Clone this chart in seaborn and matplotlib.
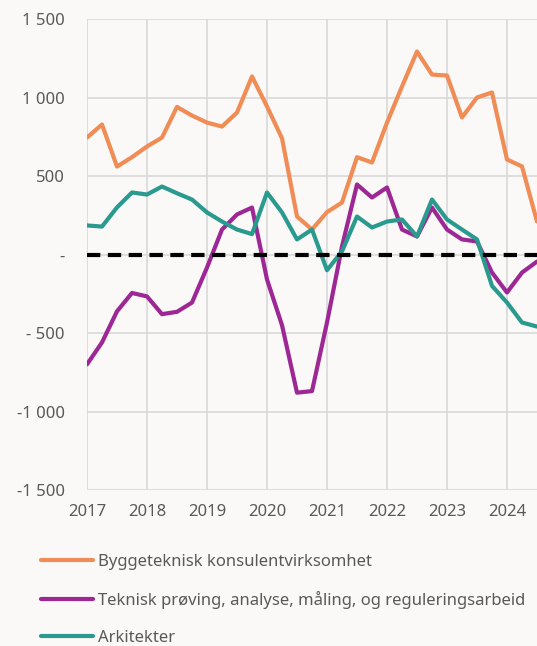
import matplotlib
matplotlib.use("Agg")
import matplotlib.pyplot as plt
import numpy as np
import pandas as pd
import seaborn as sns
from matplotlib.ticker import FixedLocator, FuncFormatter

# quarterly observations, 2017 Q1 .. 2024 Q3
periods = [2017 + 0.25 * k for k in range(31)]

bygg = [745, 828, 560, 620, 688, 745, 940, 885, 840, 815, 904, 1134, 943, 740, 242, 159,
        270, 331, 620, 586, 840, 1070, 1293, 1146, 1140, 873, 1000, 1032, 605, 561, 210]
teknisk = [-700, -560, -362, -245, -267, -380, -365, -306, -83, 159, 255, 299, -159, -450, -880, -870,
           -433, 51, 446, 363, 427, 159, 115, 299, 159, 96, 83, -115, -242, -115, -45]
arkitekt = [185, 178, 300, 395, 382, 433, 390, 350, 268, 210, 159, 130, 395, 268, 96, 159,
            -100, 20, 242, 172, 210, 223, 115, 350, 223, 159, 96, -200, -306, -433, -459]

series_names = [
    "Byggeteknisk konsulentvirksomhet",
    "Teknisk prøving, analyse, måling, og reguleringsarbeid",
    "Arkitekter",
]
series_colors = ["#F08C55", "#9C2795", "#2A9A8E"]

year_ticks = list(range(2017, 2025))
value_ticks = [-1500, -1000, -500, 0, 500, 1000, 1500]

BG = "#FAF9F7"
GRID = "#D9D9D9"
TEXT = "#595959"

df = pd.concat(
    [
        pd.DataFrame({"periode": periods, "verdi": vals, "serie": name})
        for name, vals in zip(series_names, [bygg, teknisk, arkitekt])
    ],
    ignore_index=True,
)

sns.set_style("white")
plt.rcParams["font.family"] = ["Noto Sans", "DejaVu Sans"]

fig = plt.figure(figsize=(5.37, 6.46), dpi=100)
fig.patch.set_facecolor(BG)
ax = fig.add_axes([87 / 537, 1 - 490 / 646, 450 / 537, 471 / 646])
ax.set_facecolor(BG)

sns.lineplot(
    data=df,
    x="periode",
    y="verdi",
    hue="serie",
    hue_order=series_names,
    palette=dict(zip(series_names, series_colors)),
    linewidth=3,
    ax=ax,
    legend=False,
    solid_joinstyle="round",
    solid_capstyle="round",
)
ax.axhline(0, color="black", lw=3, ls=(0, (3.2, 1.8)), zorder=5)

ax.set_xlim(2017, 2024.5)
ax.set_ylim(-1500, 1500)
ax.xaxis.set_major_locator(FixedLocator(year_ticks))
ax.yaxis.set_major_locator(FixedLocator(value_ticks))


def nok_fmt(v, _pos):
    if v == 0:
        return "-"
    s = f"{abs(int(v)):,}".replace(",", " ")
    if v < 0:
        return ("- " + s) if abs(v) < 1000 else "-" + s
    return s


ax.yaxis.set_major_formatter(FuncFormatter(nok_fmt))
ax.xaxis.set_major_formatter(FuncFormatter(lambda v, p: f"{int(v)}"))
ax.grid(True, color=GRID, lw=1.2)
ax.set_axisbelow(True)
for sp in ax.spines.values():
    sp.set_visible(False)
ax.tick_params(axis="both", length=0, labelsize=12, labelcolor=TEXT)
ax.tick_params(axis="y", pad=16)
ax.tick_params(axis="x", pad=10)
ax.set_xlabel("")
ax.set_ylabel("")

handles = [plt.Line2D([], [], color=c, lw=3) for c in series_colors]
fig.legend(
    handles,
    series_names,
    loc="upper left",
    bbox_to_anchor=(26 / 537, 1 - 539 / 646),
    frameon=False,
    fontsize=12,
    labelcolor=TEXT,
    handlelength=3.1,
    handletextpad=0.3,
    labelspacing=1.26,
)

fig.savefig("out.png", dpi=100, facecolor=BG)
